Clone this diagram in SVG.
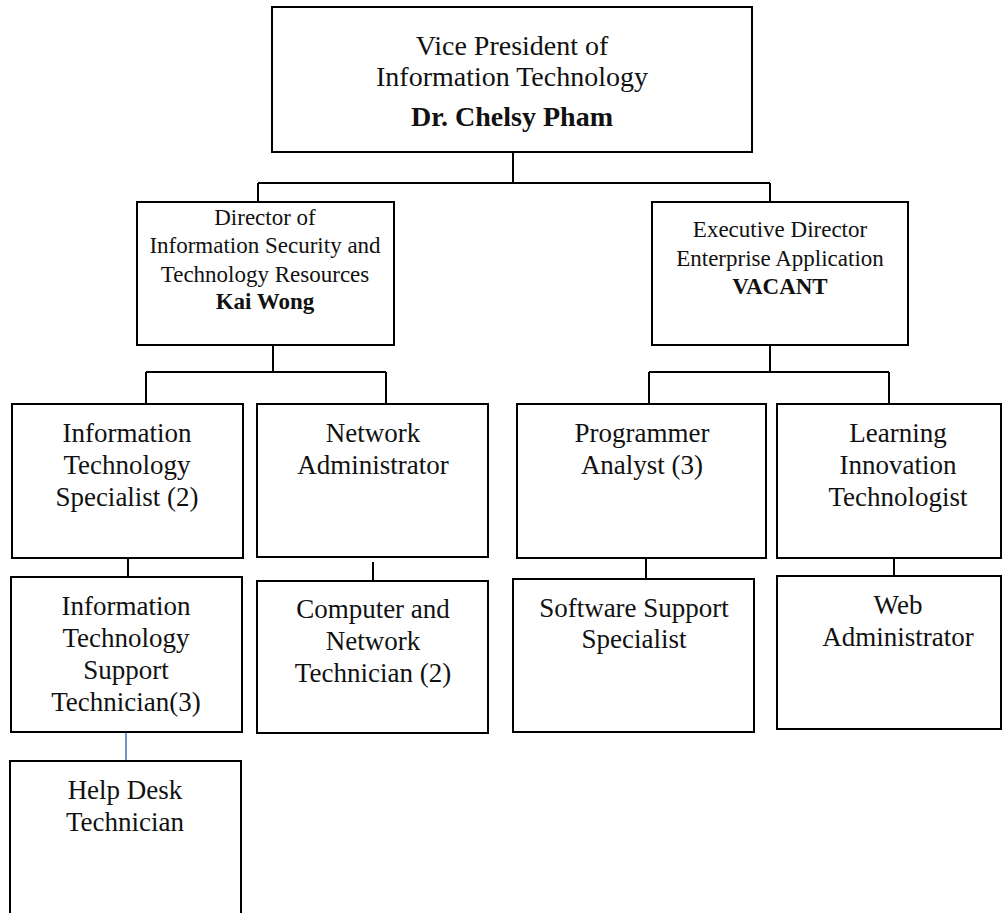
<svg xmlns="http://www.w3.org/2000/svg" width="1002" height="913" viewBox="0 0 1002 913">
  <style>
    .box { fill: #ffffff; stroke: #000000; stroke-width: 2; }
    .wire { fill: none; stroke: #000000; stroke-width: 2; }
    .wire-blue { fill: none; stroke: #4a7ebb; stroke-width: 1.6; }
    text { font-family: "Liberation Serif", "Times New Roman", serif; fill: #111111; text-anchor: middle; }
    .t28 { font-size: 28px; }
    .t27 { font-size: 27px; }
    .t23 { font-size: 23px; }
    .b { font-weight: bold; }
  </style>
  <rect width="1002" height="913" fill="#ffffff"/>

  <!-- reporting lines -->
  <g id="connectors">
    <path class="wire" d="M513 152 V183 M258 183 H770 M258 183 V202 M770 183 V202"/>
    <path class="wire" d="M273 345 V372 M146 372 H386 M146 372 V404 M386 372 V404"/>
    <path class="wire" d="M770 345 V372 M649 372 H889 M649 372 V404 M889 372 V404"/>
    <path class="wire" d="M128 558 V577"/>
    <path class="wire" d="M373 562 V581"/>
    <path class="wire" d="M646 558 V579"/>
    <path class="wire" d="M894 557 V576"/>
    <path class="wire-blue" d="M126 732 V761"/>
  </g>

  <g id="vp">
    <rect class="box" x="272" y="7" width="480" height="145"/>
    <text class="t28" x="512" y="55">Vice President of</text>
    <text class="t28" x="512" y="86">Information Technology</text>
    <text class="t28 b" x="512" y="126">Dr. Chelsy Pham</text>
  </g>

  <g id="director-security">
    <rect class="box" x="137" y="202" width="257" height="143"/>
    <text class="t23" x="265" y="225">Director of</text>
    <text class="t23" x="265" y="253">Information Security and</text>
    <text class="t23" x="265" y="282">Technology Resources</text>
    <text class="t23 b" x="265" y="309">Kai Wong</text>
  </g>

  <g id="exec-director">
    <rect class="box" x="652" y="202" width="256" height="143"/>
    <text class="t23" x="780" y="237">Executive Director</text>
    <text class="t23" x="780" y="266">Enterprise Application</text>
    <text class="t23 b" x="780" y="294">VACANT</text>
  </g>

  <g id="it-specialist">
    <rect class="box" x="12" y="404" width="231" height="154"/>
    <text class="t27" x="127" y="442">Information</text>
    <text class="t27" x="127" y="474">Technology</text>
    <text class="t27" x="127" y="506">Specialist (2)</text>
  </g>

  <g id="network-admin">
    <rect class="box" x="257" y="404" width="231" height="153"/>
    <text class="t27" x="373" y="442">Network</text>
    <text class="t27" x="373" y="474">Administrator</text>
  </g>

  <g id="programmer-analyst">
    <rect class="box" x="517" y="404" width="249" height="154"/>
    <text class="t27" x="642" y="442">Programmer</text>
    <text class="t27" x="642" y="474">Analyst (3)</text>
  </g>

  <g id="learning-tech">
    <rect class="box" x="777" y="404" width="224" height="154"/>
    <text class="t27" x="898" y="442">Learning</text>
    <text class="t27" x="898" y="474">Innovation</text>
    <text class="t27" x="898" y="506">Technologist</text>
  </g>

  <g id="it-support-tech">
    <rect class="box" x="11" y="577" width="231" height="155"/>
    <text class="t27" x="126" y="615">Information</text>
    <text class="t27" x="126" y="647">Technology</text>
    <text class="t27" x="126" y="679">Support</text>
    <text class="t27" x="126" y="711">Technician(3)</text>
  </g>

  <g id="computer-network-tech">
    <rect class="box" x="257" y="581" width="231" height="152"/>
    <text class="t27" x="373" y="618">Computer and</text>
    <text class="t27" x="373" y="650">Network</text>
    <text class="t27" x="373" y="682">Technician (2)</text>
  </g>

  <g id="software-support">
    <rect class="box" x="513" y="579" width="241" height="153"/>
    <text class="t27" x="634" y="617">Software Support</text>
    <text class="t27" x="634" y="648">Specialist</text>
  </g>

  <g id="web-admin">
    <rect class="box" x="777" y="576" width="224" height="153"/>
    <text class="t27" x="898" y="614">Web</text>
    <text class="t27" x="898" y="646">Administrator</text>
  </g>

  <g id="help-desk">
    <rect class="box" x="10" y="761" width="231" height="170"/>
    <text class="t27" x="125" y="799">Help Desk</text>
    <text class="t27" x="125" y="831">Technician</text>
  </g>
</svg>
